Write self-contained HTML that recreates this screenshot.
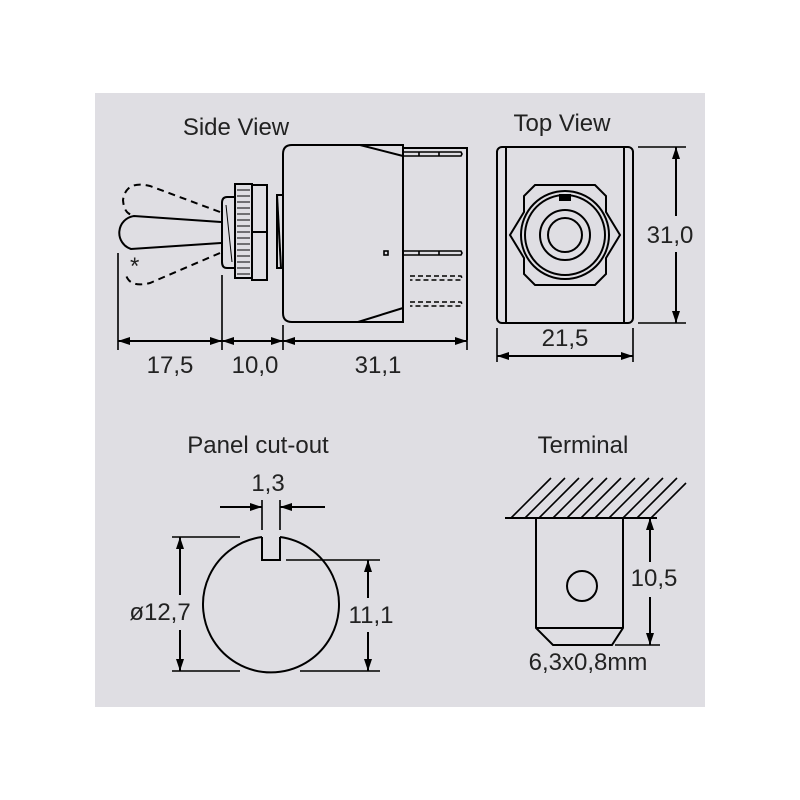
<!DOCTYPE html>
<html><head><meta charset="utf-8"><style>body{margin:0;background:#fff}svg{display:block}text{font-family:"Liberation Sans",sans-serif;font-size:24px;fill:#222}</style></head><body>
<svg width="800" height="800" viewBox="0 0 800 800" xmlns="http://www.w3.org/2000/svg">
<defs>
<marker id="a" viewBox="0 0 12 8" refX="12" refY="4" markerWidth="12" markerHeight="8" orient="auto-start-reverse" markerUnits="userSpaceOnUse"><path d="M0,0L12,4L0,8z" fill="#000"/></marker>
</defs>
<rect x="95" y="93" width="610" height="614" fill="#dfdee3"/>
<g stroke="#000" stroke-width="2" fill="none">
<path d="M292,145H403V322H292Q283,322 283,313V154Q283,145 292,145Z"/>
<path d="M360,145L403,156M358,322L403,308"/>
<path d="M403,148H467V340"/>
<g stroke-width="1.6">
<path d="M403,152H461l1,2-1,2H403M403,251H461l1,2-1,2H403"/>
<path d="M410,276H461l1,2-1,2H410M410,302H461l1,2-1,2H410" stroke-dasharray="5,3"/>
<path d="M419,152v4M439,152v4M419,251v4M439,251v4"/>
<rect x="384" y="251" width="4" height="4"/>
</g>
<path d="M277,195H283V268H277Z"/>
<path d="M277,195L281,268"/>
<rect x="252" y="185" width="15" height="95"/>
<path d="M252,232H267"/>
<rect x="235" y="184" width="17" height="94"/>
<path d="M237,190h13M237,196h13M237,202h13M237,208h13M237,214h13M237,220h13M237,226h13M237,232h13M237,238h13M237,244h13M237,250h13M237,256h13M237,262h13M237,268h13M237,274h13" stroke-width="1"/>
<path d="M227,197H235V268H227Q222,268 222,262V203Q222,197 227,197Z"/>
<path d="M226,205L232,262" stroke-width="1"/>
<path d="M221,222L134,216A17,17 0 0 0 131,249L221,243"/>
<path d="M220,212L150,186Q126,180 123,200Q124,214 133,215M220,253L150,283Q130,288 126,275" stroke-dasharray="7,5"/>
<path d="M118,253V350M222,275V350M283,325V350M467,330V350" stroke-width="1.6"/>
<path d="M118,341H222" marker-start="url(#a)" marker-end="url(#a)"/>
<path d="M222,341H283" marker-start="url(#a)" marker-end="url(#a)"/>
<path d="M283,341H467" marker-start="url(#a)" marker-end="url(#a)"/>
<rect x="497" y="147" width="136" height="176" rx="5"/>
<path d="M506,147V323M624,147V323"/>
<path d="M535,185H595L606,196V212L620,235L606,258V274L595,285H535L524,274V258L510,235L524,212V196Z"/>
<circle cx="565" cy="235" r="44"/>
<circle cx="565" cy="235" r="40"/>
<circle cx="565" cy="235" r="25"/>
<circle cx="565" cy="235" r="17"/>
<rect x="560" y="195" width="10" height="5" fill="#000"/>
<path d="M638,147H686M638,323H686M497,328V362M633,328V362" stroke-width="1.6"/>
<path d="M676,216V147" marker-end="url(#a)"/>
<path d="M676,252V323" marker-end="url(#a)"/>
<path d="M497,356H633" marker-start="url(#a)" marker-end="url(#a)"/>
<path d="M262,537A68,68 0 1 0 280,537"/>
<path d="M262,537V560H280V537"/>
<path d="M262,500V530M280,500V530" stroke-width="1.6"/>
<path d="M220,507H262" marker-end="url(#a)"/>
<path d="M325,507H280" marker-end="url(#a)"/>
<path d="M172,537H240M172,671H240M286,560H380M300,671H380" stroke-width="1.6"/>
<path d="M180,595V537" marker-end="url(#a)"/>
<path d="M180,630V671" marker-end="url(#a)"/>
<path d="M368,598V560" marker-end="url(#a)"/>
<path d="M368,632V671" marker-end="url(#a)"/>
<path d="M505,518H657"/>
<g stroke-width="1.6"><path d="M511,518l40,-40M525,518l40,-40M539,518l40,-40M553,518l40,-40M567,518l40,-40M581,518l40,-40M595,518l40,-40M609,518l40,-40M623,518l40,-40M637,518l40,-40M651,518l35,-35"/></g>
<path d="M536,518V628L553,645H612L623,628V518M536,628H623"/>
<circle cx="582" cy="586" r="15"/>
<path d="M615,645H660" stroke-width="1.6"/>
<path d="M650,562V518" marker-end="url(#a)"/>
<path d="M650,597V645" marker-end="url(#a)"/>
</g>
<text x="130" y="274" font-size="16">*</text>
<text x="236" y="135" text-anchor="middle">Side View</text>
<text x="562" y="131" text-anchor="middle">Top View</text>
<text x="258" y="453" text-anchor="middle">Panel cut-out</text>
<text x="583" y="453" text-anchor="middle">Terminal</text>
<text x="170" y="373" text-anchor="middle">17,5</text>
<text x="255" y="373" text-anchor="middle">10,0</text>
<text x="378" y="373" text-anchor="middle">31,1</text>
<text x="670" y="243" text-anchor="middle">31,0</text>
<text x="565" y="346" text-anchor="middle">21,5</text>
<text x="268" y="491" text-anchor="middle">1,3</text>
<text x="160" y="620" text-anchor="middle">ø12,7</text>
<text x="371" y="623" text-anchor="middle">11,1</text>
<text x="654" y="586" text-anchor="middle">10,5</text>
<text x="588" y="670" text-anchor="middle">6,3x0,8mm</text>
</svg>
</body></html>
